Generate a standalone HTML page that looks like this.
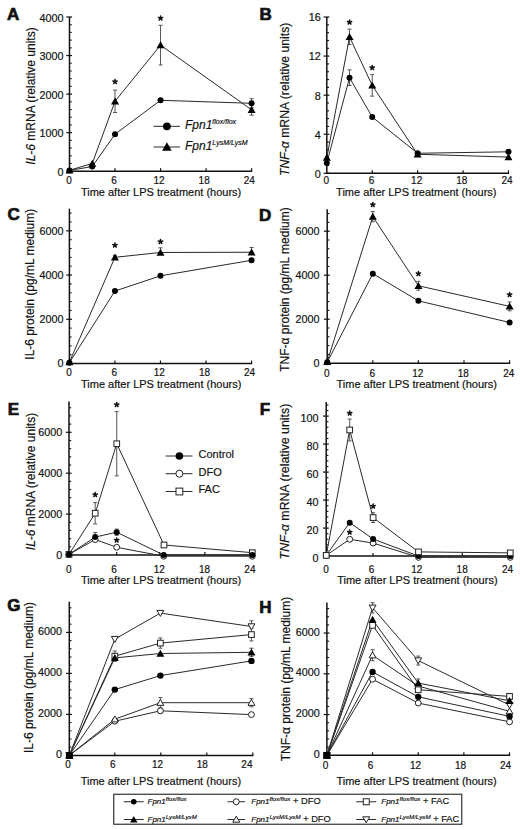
<!DOCTYPE html>
<html><head><meta charset="utf-8"><style>
html,body{margin:0;padding:0;background:#fff;}
svg{display:block;}
text{font-family:"Liberation Sans",sans-serif;fill:#111;stroke:#111;stroke-width:0.18px;}
</style></head><body>
<svg width="520" height="830" viewBox="0 0 520 830">
<rect width="520" height="830" fill="#fff"/>
<line x1="69.5" y1="17" x2="69.5" y2="171.95" stroke="#111" stroke-width="1.5"/>
<line x1="68.75" y1="171.2" x2="252.2" y2="171.2" stroke="#111" stroke-width="1.5"/>
<line x1="66.3" y1="171.2" x2="72.1" y2="171.2" stroke="#111" stroke-width="1.2"/>
<text x="63.45" y="175.7" text-anchor="end" font-size="10.8">0</text>
<line x1="69.5" y1="163.49" x2="71.7" y2="163.49" stroke="#111" stroke-width="1.1"/>
<line x1="69.5" y1="155.78" x2="71.7" y2="155.78" stroke="#111" stroke-width="1.1"/>
<line x1="69.5" y1="148.07" x2="71.7" y2="148.07" stroke="#111" stroke-width="1.1"/>
<line x1="69.5" y1="140.36" x2="71.7" y2="140.36" stroke="#111" stroke-width="1.1"/>
<line x1="66.3" y1="132.65" x2="72.1" y2="132.65" stroke="#111" stroke-width="1.2"/>
<text x="63.45" y="137.15" text-anchor="end" font-size="10.8">1000</text>
<line x1="69.5" y1="124.94" x2="71.7" y2="124.94" stroke="#111" stroke-width="1.1"/>
<line x1="69.5" y1="117.23" x2="71.7" y2="117.23" stroke="#111" stroke-width="1.1"/>
<line x1="69.5" y1="109.52" x2="71.7" y2="109.52" stroke="#111" stroke-width="1.1"/>
<line x1="69.5" y1="101.81" x2="71.7" y2="101.81" stroke="#111" stroke-width="1.1"/>
<line x1="66.3" y1="94.1" x2="72.1" y2="94.1" stroke="#111" stroke-width="1.2"/>
<text x="63.45" y="98.6" text-anchor="end" font-size="10.8">2000</text>
<line x1="69.5" y1="86.39" x2="71.7" y2="86.39" stroke="#111" stroke-width="1.1"/>
<line x1="69.5" y1="78.68" x2="71.7" y2="78.68" stroke="#111" stroke-width="1.1"/>
<line x1="69.5" y1="70.97" x2="71.7" y2="70.97" stroke="#111" stroke-width="1.1"/>
<line x1="69.5" y1="63.26" x2="71.7" y2="63.26" stroke="#111" stroke-width="1.1"/>
<line x1="66.3" y1="55.55" x2="72.1" y2="55.55" stroke="#111" stroke-width="1.2"/>
<text x="63.45" y="60.05" text-anchor="end" font-size="10.8">3000</text>
<line x1="69.5" y1="47.84" x2="71.7" y2="47.84" stroke="#111" stroke-width="1.1"/>
<line x1="69.5" y1="40.13" x2="71.7" y2="40.13" stroke="#111" stroke-width="1.1"/>
<line x1="69.5" y1="32.42" x2="71.7" y2="32.42" stroke="#111" stroke-width="1.1"/>
<line x1="69.5" y1="24.71" x2="71.7" y2="24.71" stroke="#111" stroke-width="1.1"/>
<line x1="66.3" y1="17" x2="72.1" y2="17" stroke="#111" stroke-width="1.2"/>
<text x="63.45" y="21.5" text-anchor="end" font-size="10.8">4000</text>
<text x="69" y="183.6" text-anchor="middle" font-size="10">0</text>
<line x1="115.03" y1="171.2" x2="115.03" y2="168.2" stroke="#111" stroke-width="1.2"/>
<text x="114.06" y="183.6" text-anchor="middle" font-size="10">6</text>
<line x1="160.55" y1="171.2" x2="160.55" y2="168.2" stroke="#111" stroke-width="1.2"/>
<text x="159.12" y="183.6" text-anchor="middle" font-size="10">12</text>
<line x1="206.08" y1="171.2" x2="206.08" y2="168.2" stroke="#111" stroke-width="1.2"/>
<text x="204.18" y="183.6" text-anchor="middle" font-size="10">18</text>
<line x1="251.6" y1="171.2" x2="251.6" y2="168.2" stroke="#111" stroke-width="1.2"/>
<text x="249.24" y="183.6" text-anchor="middle" font-size="10">24</text>
<text x="80.9" y="196.1" font-size="11">Time after LPS treatment (hours)</text>
<text x="7" y="19.6" font-size="17" font-weight="bold" style="stroke-width:0.7px">A</text>
<text transform="translate(34.5,96) rotate(-90)" text-anchor="middle" font-size="12"><tspan font-style="italic">IL-6</tspan> mRNA (relative units)</text>
<line x1="251.6" y1="98.69" x2="251.6" y2="107.94" stroke="#555" stroke-width="1"/>
<line x1="249.6" y1="98.69" x2="253.6" y2="98.69" stroke="#555" stroke-width="1"/>
<line x1="249.6" y1="107.94" x2="253.6" y2="107.94" stroke="#555" stroke-width="1"/>
<line x1="115.03" y1="90.13" x2="115.03" y2="112.49" stroke="#555" stroke-width="1"/>
<line x1="113.03" y1="90.13" x2="117.03" y2="90.13" stroke="#555" stroke-width="1"/>
<line x1="113.03" y1="112.49" x2="117.03" y2="112.49" stroke="#555" stroke-width="1"/>
<line x1="160.55" y1="25.25" x2="160.55" y2="65.03" stroke="#555" stroke-width="1"/>
<line x1="158.55" y1="25.25" x2="162.55" y2="25.25" stroke="#555" stroke-width="1"/>
<line x1="158.55" y1="65.03" x2="162.55" y2="65.03" stroke="#555" stroke-width="1"/>
<line x1="251.6" y1="104.39" x2="251.6" y2="115.19" stroke="#555" stroke-width="1"/>
<line x1="249.6" y1="104.39" x2="253.6" y2="104.39" stroke="#555" stroke-width="1"/>
<line x1="249.6" y1="115.19" x2="253.6" y2="115.19" stroke="#555" stroke-width="1"/>
<path d="M69.5 170.43 L92.26 166.54 L115.03 134.19 L160.55 100.31 L251.6 103.31" fill="none" stroke="#2a2a2a" stroke-width="1.0"/>
<path d="M69.5 170.24 L92.26 163.49 L115.03 101.31 L160.55 45.14 L251.6 109.79" fill="none" stroke="#2a2a2a" stroke-width="1.0"/>
<circle cx="69.5" cy="170.43" r="3.0" fill="#000"/>
<circle cx="92.26" cy="166.54" r="3.0" fill="#000"/>
<circle cx="115.03" cy="134.19" r="3.0" fill="#000"/>
<circle cx="160.55" cy="100.31" r="3.0" fill="#000"/>
<circle cx="251.6" cy="103.31" r="3.0" fill="#000"/>
<path d="M69.5 166.39 L73.5 173.39 L65.5 173.39Z" fill="#000"/>
<path d="M92.26 159.64 L96.26 166.64 L88.26 166.64Z" fill="#000"/>
<path d="M115.03 97.46 L119.03 104.46 L111.03 104.46Z" fill="#000"/>
<path d="M160.55 41.29 L164.55 48.29 L156.55 48.29Z" fill="#000"/>
<path d="M251.6 105.94 L255.6 112.94 L247.6 112.94Z" fill="#000"/>
<path d="M115.03 81.7L115.03 79.45M115.03 81.7L117.16 81M115.03 81.7L116.35 83.52M115.03 81.7L113.7 83.52M115.03 81.7L112.89 81" stroke="#111" stroke-width="1.55" stroke-linecap="round" fill="none"/>
<path d="M160.55 18.2L160.55 15.95M160.55 18.2L162.69 17.5M160.55 18.2L161.87 20.02M160.55 18.2L159.23 20.02M160.55 18.2L158.41 17.5" stroke="#111" stroke-width="1.55" stroke-linecap="round" fill="none"/>
<line x1="153.5" y1="126.3" x2="180" y2="126.3" stroke="#2a2a2a" stroke-width="1"/>
<circle cx="166.9" cy="126.3" r="3.9" fill="#000"/>
<line x1="153.5" y1="147" x2="180" y2="147" stroke="#2a2a2a" stroke-width="1"/>
<path d="M166.9 142.32 L171.65 150.82 L162.15 150.82Z" fill="#000"/>
<text x="185" y="129.4" font-size="12" font-style="italic">Fpn1<tspan font-size="7" dy="-5">flox/flox</tspan></text>
<text x="185" y="150.4" font-size="12" font-style="italic">Fpn1<tspan font-size="7" dy="-5">LysM/LysM</tspan></text>
<line x1="326.8" y1="17.04" x2="326.8" y2="174.05" stroke="#111" stroke-width="1.5"/>
<line x1="326.05" y1="173.3" x2="509.08" y2="173.3" stroke="#111" stroke-width="1.5"/>
<line x1="323.6" y1="173.3" x2="329.4" y2="173.3" stroke="#111" stroke-width="1.2"/>
<text x="320.75" y="177.65" text-anchor="end" font-size="10.8">0</text>
<line x1="326.8" y1="165.49" x2="329" y2="165.49" stroke="#111" stroke-width="1.1"/>
<line x1="326.8" y1="157.67" x2="329" y2="157.67" stroke="#111" stroke-width="1.1"/>
<line x1="326.8" y1="149.86" x2="329" y2="149.86" stroke="#111" stroke-width="1.1"/>
<line x1="326.8" y1="142.05" x2="329" y2="142.05" stroke="#111" stroke-width="1.1"/>
<line x1="323.6" y1="134.24" x2="329.4" y2="134.24" stroke="#111" stroke-width="1.2"/>
<text x="320.75" y="138.59" text-anchor="end" font-size="10.8">4</text>
<line x1="326.8" y1="126.42" x2="329" y2="126.42" stroke="#111" stroke-width="1.1"/>
<line x1="326.8" y1="118.61" x2="329" y2="118.61" stroke="#111" stroke-width="1.1"/>
<line x1="326.8" y1="110.8" x2="329" y2="110.8" stroke="#111" stroke-width="1.1"/>
<line x1="326.8" y1="102.98" x2="329" y2="102.98" stroke="#111" stroke-width="1.1"/>
<line x1="323.6" y1="95.17" x2="329.4" y2="95.17" stroke="#111" stroke-width="1.2"/>
<text x="320.75" y="99.52" text-anchor="end" font-size="10.8">8</text>
<line x1="326.8" y1="87.36" x2="329" y2="87.36" stroke="#111" stroke-width="1.1"/>
<line x1="326.8" y1="79.55" x2="329" y2="79.55" stroke="#111" stroke-width="1.1"/>
<line x1="326.8" y1="71.73" x2="329" y2="71.73" stroke="#111" stroke-width="1.1"/>
<line x1="326.8" y1="63.92" x2="329" y2="63.92" stroke="#111" stroke-width="1.1"/>
<line x1="323.6" y1="56.11" x2="329.4" y2="56.11" stroke="#111" stroke-width="1.2"/>
<text x="320.75" y="60.46" text-anchor="end" font-size="10.8">12</text>
<line x1="326.8" y1="48.3" x2="329" y2="48.3" stroke="#111" stroke-width="1.1"/>
<line x1="326.8" y1="40.48" x2="329" y2="40.48" stroke="#111" stroke-width="1.1"/>
<line x1="326.8" y1="32.67" x2="329" y2="32.67" stroke="#111" stroke-width="1.1"/>
<line x1="326.8" y1="24.86" x2="329" y2="24.86" stroke="#111" stroke-width="1.1"/>
<line x1="323.6" y1="17.04" x2="329.4" y2="17.04" stroke="#111" stroke-width="1.2"/>
<text x="320.75" y="21.39" text-anchor="end" font-size="10.8">16</text>
<text x="326.3" y="183.9" text-anchor="middle" font-size="10">0</text>
<line x1="372.22" y1="173.3" x2="372.22" y2="170.3" stroke="#111" stroke-width="1.2"/>
<text x="371.48" y="183.9" text-anchor="middle" font-size="10">6</text>
<line x1="417.64" y1="173.3" x2="417.64" y2="170.3" stroke="#111" stroke-width="1.2"/>
<text x="416.66" y="183.9" text-anchor="middle" font-size="10">12</text>
<line x1="463.06" y1="173.3" x2="463.06" y2="170.3" stroke="#111" stroke-width="1.2"/>
<text x="461.84" y="183.9" text-anchor="middle" font-size="10">18</text>
<line x1="508.48" y1="173.3" x2="508.48" y2="170.3" stroke="#111" stroke-width="1.2"/>
<text x="507.02" y="183.9" text-anchor="middle" font-size="10">24</text>
<text x="336.1" y="195.8" font-size="11">Time after LPS treatment (hours)</text>
<text x="259.5" y="19.7" font-size="17" font-weight="bold" style="stroke-width:0.7px">B</text>
<text transform="translate(289.2,99.3) rotate(-90)" text-anchor="middle" font-size="12.2"><tspan font-style="italic">TNF-α</tspan> mRNA (relative units)</text>
<line x1="349.51" y1="69.88" x2="349.51" y2="85.5" stroke="#555" stroke-width="1"/>
<line x1="347.51" y1="69.88" x2="351.51" y2="69.88" stroke="#555" stroke-width="1"/>
<line x1="347.51" y1="85.5" x2="351.51" y2="85.5" stroke="#555" stroke-width="1"/>
<line x1="349.51" y1="29.15" x2="349.51" y2="44.58" stroke="#555" stroke-width="1"/>
<line x1="347.51" y1="29.15" x2="351.51" y2="29.15" stroke="#555" stroke-width="1"/>
<line x1="347.51" y1="44.58" x2="351.51" y2="44.58" stroke="#555" stroke-width="1"/>
<line x1="372.22" y1="74.66" x2="372.22" y2="96.15" stroke="#555" stroke-width="1"/>
<line x1="370.22" y1="74.66" x2="374.22" y2="74.66" stroke="#555" stroke-width="1"/>
<line x1="370.22" y1="96.15" x2="374.22" y2="96.15" stroke="#555" stroke-width="1"/>
<line x1="417.64" y1="152.3" x2="417.64" y2="156.21" stroke="#555" stroke-width="1"/>
<line x1="415.64" y1="152.3" x2="419.64" y2="152.3" stroke="#555" stroke-width="1"/>
<line x1="415.64" y1="156.21" x2="419.64" y2="156.21" stroke="#555" stroke-width="1"/>
<path d="M326.8 163.05 L349.51 77.69 L372.22 117.05 L417.64 153.28 L508.48 151.81" fill="none" stroke="#2a2a2a" stroke-width="1.0"/>
<path d="M326.8 157.67 L349.51 36.87 L372.22 85.41 L417.64 154.26 L508.48 157.09" fill="none" stroke="#2a2a2a" stroke-width="1.0"/>
<circle cx="326.8" cy="163.05" r="3.0" fill="#000"/>
<circle cx="349.51" cy="77.69" r="3.0" fill="#000"/>
<circle cx="372.22" cy="117.05" r="3.0" fill="#000"/>
<circle cx="417.64" cy="153.28" r="3.0" fill="#000"/>
<circle cx="508.48" cy="151.81" r="3.0" fill="#000"/>
<path d="M326.8 153.82 L330.8 160.82 L322.8 160.82Z" fill="#000"/>
<path d="M349.51 33.02 L353.51 40.02 L345.51 40.02Z" fill="#000"/>
<path d="M372.22 81.56 L376.22 88.56 L368.22 88.56Z" fill="#000"/>
<path d="M417.64 150.41 L421.64 157.41 L413.64 157.41Z" fill="#000"/>
<path d="M508.48 153.24 L512.48 160.24 L504.48 160.24Z" fill="#000"/>
<path d="M349.51 22.2L349.51 19.95M349.51 22.2L351.65 21.5M349.51 22.2L350.83 24.02M349.51 22.2L348.19 24.02M349.51 22.2L347.37 21.5" stroke="#111" stroke-width="1.55" stroke-linecap="round" fill="none"/>
<path d="M372.22 67.7L372.22 65.45M372.22 67.7L374.36 67M372.22 67.7L373.54 69.52M372.22 67.7L370.9 69.52M372.22 67.7L370.08 67" stroke="#111" stroke-width="1.55" stroke-linecap="round" fill="none"/>
<line x1="69.4" y1="208.68" x2="69.4" y2="364.3" stroke="#111" stroke-width="1.5"/>
<line x1="68.65" y1="363.55" x2="252.16" y2="363.55" stroke="#111" stroke-width="1.5"/>
<line x1="66.2" y1="363.55" x2="72" y2="363.55" stroke="#111" stroke-width="1.2"/>
<text x="63.45" y="367.45" text-anchor="end" font-size="10.8">0</text>
<line x1="69.4" y1="354.7" x2="71.6" y2="354.7" stroke="#111" stroke-width="1.1"/>
<line x1="69.4" y1="345.85" x2="71.6" y2="345.85" stroke="#111" stroke-width="1.1"/>
<line x1="69.4" y1="337" x2="71.6" y2="337" stroke="#111" stroke-width="1.1"/>
<line x1="69.4" y1="328.15" x2="71.6" y2="328.15" stroke="#111" stroke-width="1.1"/>
<line x1="66.2" y1="319.3" x2="72" y2="319.3" stroke="#111" stroke-width="1.2"/>
<text x="63.45" y="323.2" text-anchor="end" font-size="10.8">2000</text>
<line x1="69.4" y1="310.45" x2="71.6" y2="310.45" stroke="#111" stroke-width="1.1"/>
<line x1="69.4" y1="301.6" x2="71.6" y2="301.6" stroke="#111" stroke-width="1.1"/>
<line x1="69.4" y1="292.75" x2="71.6" y2="292.75" stroke="#111" stroke-width="1.1"/>
<line x1="69.4" y1="283.9" x2="71.6" y2="283.9" stroke="#111" stroke-width="1.1"/>
<line x1="66.2" y1="275.05" x2="72" y2="275.05" stroke="#111" stroke-width="1.2"/>
<text x="63.45" y="278.95" text-anchor="end" font-size="10.8">4000</text>
<line x1="69.4" y1="266.2" x2="71.6" y2="266.2" stroke="#111" stroke-width="1.1"/>
<line x1="69.4" y1="257.35" x2="71.6" y2="257.35" stroke="#111" stroke-width="1.1"/>
<line x1="69.4" y1="248.5" x2="71.6" y2="248.5" stroke="#111" stroke-width="1.1"/>
<line x1="69.4" y1="239.65" x2="71.6" y2="239.65" stroke="#111" stroke-width="1.1"/>
<line x1="66.2" y1="230.8" x2="72" y2="230.8" stroke="#111" stroke-width="1.2"/>
<text x="63.45" y="234.7" text-anchor="end" font-size="10.8">6000</text>
<line x1="69.4" y1="221.95" x2="71.6" y2="221.95" stroke="#111" stroke-width="1.1"/>
<line x1="69.4" y1="213.1" x2="71.6" y2="213.1" stroke="#111" stroke-width="1.1"/>
<text x="69.1" y="376.35" text-anchor="middle" font-size="10">0</text>
<line x1="114.94" y1="363.55" x2="114.94" y2="360.55" stroke="#111" stroke-width="1.2"/>
<text x="114.22" y="376.35" text-anchor="middle" font-size="10">6</text>
<line x1="160.48" y1="363.55" x2="160.48" y2="360.55" stroke="#111" stroke-width="1.2"/>
<text x="159.34" y="376.35" text-anchor="middle" font-size="10">12</text>
<line x1="206.02" y1="363.55" x2="206.02" y2="360.55" stroke="#111" stroke-width="1.2"/>
<text x="204.46" y="376.35" text-anchor="middle" font-size="10">18</text>
<line x1="251.56" y1="363.55" x2="251.56" y2="360.55" stroke="#111" stroke-width="1.2"/>
<text x="249.58" y="376.35" text-anchor="middle" font-size="10">24</text>
<text x="81" y="387.75" font-size="11">Time after LPS treatment (hours)</text>
<text x="7.6" y="220" font-size="17" font-weight="bold" style="stroke-width:0.7px">C</text>
<text transform="translate(33.5,284.2) rotate(-90)" text-anchor="middle" font-size="12">IL-6 protein (pg/mL medium)</text>
<line x1="251.56" y1="258.52" x2="251.56" y2="262.06" stroke="#555" stroke-width="1"/>
<line x1="249.56" y1="258.52" x2="253.56" y2="258.52" stroke="#555" stroke-width="1"/>
<line x1="249.56" y1="262.06" x2="253.56" y2="262.06" stroke="#555" stroke-width="1"/>
<line x1="114.94" y1="255.54" x2="114.94" y2="257.31" stroke="#555" stroke-width="1"/>
<line x1="112.94" y1="255.54" x2="116.94" y2="255.54" stroke="#555" stroke-width="1"/>
<line x1="112.94" y1="257.31" x2="116.94" y2="257.31" stroke="#555" stroke-width="1"/>
<line x1="160.48" y1="247.84" x2="160.48" y2="252.48" stroke="#555" stroke-width="1"/>
<line x1="158.48" y1="247.84" x2="162.48" y2="247.84" stroke="#555" stroke-width="1"/>
<line x1="158.48" y1="252.48" x2="162.48" y2="252.48" stroke="#555" stroke-width="1"/>
<line x1="251.56" y1="247.5" x2="251.56" y2="252.26" stroke="#555" stroke-width="1"/>
<line x1="249.56" y1="247.5" x2="253.56" y2="247.5" stroke="#555" stroke-width="1"/>
<line x1="249.56" y1="252.26" x2="253.56" y2="252.26" stroke="#555" stroke-width="1"/>
<path d="M69.4 362.67 L114.94 291.05 L160.48 275.8 L251.56 260.29" fill="none" stroke="#2a2a2a" stroke-width="1.0"/>
<path d="M69.4 362.22 L114.94 257.31 L160.48 252.48 L251.56 252.26" fill="none" stroke="#2a2a2a" stroke-width="1.0"/>
<circle cx="69.4" cy="362.67" r="3.0" fill="#000"/>
<circle cx="114.94" cy="291.05" r="3.0" fill="#000"/>
<circle cx="160.48" cy="275.8" r="3.0" fill="#000"/>
<circle cx="251.56" cy="260.29" r="3.0" fill="#000"/>
<path d="M69.4 358.37 L73.4 365.37 L65.4 365.37Z" fill="#000"/>
<path d="M114.94 253.46 L118.94 260.46 L110.94 260.46Z" fill="#000"/>
<path d="M160.48 248.63 L164.48 255.63 L156.48 255.63Z" fill="#000"/>
<path d="M251.56 248.41 L255.56 255.41 L247.56 255.41Z" fill="#000"/>
<path d="M114.94 245.2L114.94 242.95M114.94 245.2L117.08 244.5M114.94 245.2L116.26 247.02M114.94 245.2L113.62 247.02M114.94 245.2L112.8 244.5" stroke="#111" stroke-width="1.55" stroke-linecap="round" fill="none"/>
<path d="M160.48 241.7L160.48 239.45M160.48 241.7L162.62 241M160.48 241.7L161.8 243.52M160.48 241.7L159.16 243.52M160.48 241.7L158.34 241" stroke="#111" stroke-width="1.55" stroke-linecap="round" fill="none"/>
<line x1="327.2" y1="209.2" x2="327.2" y2="363.95" stroke="#111" stroke-width="1.5"/>
<line x1="326.45" y1="363.2" x2="510.2" y2="363.2" stroke="#111" stroke-width="1.5"/>
<line x1="324" y1="363.2" x2="329.8" y2="363.2" stroke="#111" stroke-width="1.2"/>
<text x="319.45" y="366.5" text-anchor="end" font-size="10.8">0</text>
<line x1="327.2" y1="354.4" x2="329.4" y2="354.4" stroke="#111" stroke-width="1.1"/>
<line x1="327.2" y1="345.6" x2="329.4" y2="345.6" stroke="#111" stroke-width="1.1"/>
<line x1="327.2" y1="336.8" x2="329.4" y2="336.8" stroke="#111" stroke-width="1.1"/>
<line x1="327.2" y1="328" x2="329.4" y2="328" stroke="#111" stroke-width="1.1"/>
<line x1="324" y1="319.2" x2="329.8" y2="319.2" stroke="#111" stroke-width="1.2"/>
<text x="319.45" y="322.5" text-anchor="end" font-size="10.8">2000</text>
<line x1="327.2" y1="310.4" x2="329.4" y2="310.4" stroke="#111" stroke-width="1.1"/>
<line x1="327.2" y1="301.6" x2="329.4" y2="301.6" stroke="#111" stroke-width="1.1"/>
<line x1="327.2" y1="292.8" x2="329.4" y2="292.8" stroke="#111" stroke-width="1.1"/>
<line x1="327.2" y1="284" x2="329.4" y2="284" stroke="#111" stroke-width="1.1"/>
<line x1="324" y1="275.2" x2="329.8" y2="275.2" stroke="#111" stroke-width="1.2"/>
<text x="319.45" y="278.5" text-anchor="end" font-size="10.8">4000</text>
<line x1="327.2" y1="266.4" x2="329.4" y2="266.4" stroke="#111" stroke-width="1.1"/>
<line x1="327.2" y1="257.6" x2="329.4" y2="257.6" stroke="#111" stroke-width="1.1"/>
<line x1="327.2" y1="248.8" x2="329.4" y2="248.8" stroke="#111" stroke-width="1.1"/>
<line x1="327.2" y1="240" x2="329.4" y2="240" stroke="#111" stroke-width="1.1"/>
<line x1="324" y1="231.2" x2="329.8" y2="231.2" stroke="#111" stroke-width="1.2"/>
<text x="319.45" y="234.5" text-anchor="end" font-size="10.8">6000</text>
<line x1="327.2" y1="222.4" x2="329.4" y2="222.4" stroke="#111" stroke-width="1.1"/>
<line x1="327.2" y1="213.6" x2="329.4" y2="213.6" stroke="#111" stroke-width="1.1"/>
<text x="326.7" y="377.1" text-anchor="middle" font-size="10">0</text>
<line x1="372.8" y1="363.2" x2="372.8" y2="360.2" stroke="#111" stroke-width="1.2"/>
<text x="372.21" y="377.1" text-anchor="middle" font-size="10">6</text>
<line x1="418.4" y1="363.2" x2="418.4" y2="360.2" stroke="#111" stroke-width="1.2"/>
<text x="417.72" y="377.1" text-anchor="middle" font-size="10">12</text>
<line x1="464" y1="363.2" x2="464" y2="360.2" stroke="#111" stroke-width="1.2"/>
<text x="463.23" y="377.1" text-anchor="middle" font-size="10">18</text>
<line x1="509.6" y1="363.2" x2="509.6" y2="360.2" stroke="#111" stroke-width="1.2"/>
<text x="508.74" y="377.1" text-anchor="middle" font-size="10">24</text>
<text x="336.5" y="387.6" font-size="11">Time after LPS treatment (hours)</text>
<text x="259.05" y="220.9" font-size="17" font-weight="bold" style="stroke-width:0.7px">D</text>
<text transform="translate(289.2,289.5) rotate(-90)" text-anchor="middle" font-size="12">TNF-α protein (pg/mL medium)</text>
<line x1="372.8" y1="211.55" x2="372.8" y2="221.67" stroke="#555" stroke-width="1"/>
<line x1="370.8" y1="211.55" x2="374.8" y2="211.55" stroke="#555" stroke-width="1"/>
<line x1="370.8" y1="221.67" x2="374.8" y2="221.67" stroke="#555" stroke-width="1"/>
<line x1="418.4" y1="281.36" x2="418.4" y2="290.16" stroke="#555" stroke-width="1"/>
<line x1="416.4" y1="281.36" x2="420.4" y2="281.36" stroke="#555" stroke-width="1"/>
<line x1="416.4" y1="290.16" x2="420.4" y2="290.16" stroke="#555" stroke-width="1"/>
<line x1="509.6" y1="301.97" x2="509.6" y2="310.77" stroke="#555" stroke-width="1"/>
<line x1="507.6" y1="301.97" x2="511.6" y2="301.97" stroke="#555" stroke-width="1"/>
<line x1="507.6" y1="310.77" x2="511.6" y2="310.77" stroke="#555" stroke-width="1"/>
<path d="M327.2 362.32 L372.8 273.68 L418.4 300.85 L509.6 322.48" fill="none" stroke="#2a2a2a" stroke-width="1.0"/>
<path d="M327.2 361.88 L372.8 216.61 L418.4 285.76 L509.6 306.37" fill="none" stroke="#2a2a2a" stroke-width="1.0"/>
<circle cx="327.2" cy="362.32" r="3.0" fill="#000"/>
<circle cx="372.8" cy="273.68" r="3.0" fill="#000"/>
<circle cx="418.4" cy="300.85" r="3.0" fill="#000"/>
<circle cx="509.6" cy="322.48" r="3.0" fill="#000"/>
<path d="M327.2 358.03 L331.2 365.03 L323.2 365.03Z" fill="#000"/>
<path d="M372.8 212.76 L376.8 219.76 L368.8 219.76Z" fill="#000"/>
<path d="M418.4 281.91 L422.4 288.91 L414.4 288.91Z" fill="#000"/>
<path d="M509.6 302.52 L513.6 309.52 L505.6 309.52Z" fill="#000"/>
<path d="M372.8 204.7L372.8 202.45M372.8 204.7L374.94 204M372.8 204.7L374.12 206.52M372.8 204.7L371.48 206.52M372.8 204.7L370.66 204" stroke="#111" stroke-width="1.55" stroke-linecap="round" fill="none"/>
<path d="M418.4 273.7L418.4 271.45M418.4 273.7L420.54 273M418.4 273.7L419.72 275.52M418.4 273.7L417.08 275.52M418.4 273.7L416.26 273" stroke="#111" stroke-width="1.55" stroke-linecap="round" fill="none"/>
<path d="M509.6 294.7L509.6 292.45M509.6 294.7L511.74 294M509.6 294.7L510.92 296.52M509.6 294.7L508.28 296.52M509.6 294.7L507.46 294" stroke="#111" stroke-width="1.55" stroke-linecap="round" fill="none"/>
<line x1="69" y1="401.62" x2="69" y2="555.75" stroke="#111" stroke-width="1.5"/>
<line x1="68.25" y1="555" x2="252.9" y2="555" stroke="#111" stroke-width="1.5"/>
<line x1="65.8" y1="555" x2="71.6" y2="555" stroke="#111" stroke-width="1.2"/>
<text x="62.25" y="558.9" text-anchor="end" font-size="10.8">0</text>
<line x1="69" y1="546.82" x2="71.2" y2="546.82" stroke="#111" stroke-width="1.1"/>
<line x1="69" y1="538.64" x2="71.2" y2="538.64" stroke="#111" stroke-width="1.1"/>
<line x1="69" y1="530.46" x2="71.2" y2="530.46" stroke="#111" stroke-width="1.1"/>
<line x1="69" y1="522.28" x2="71.2" y2="522.28" stroke="#111" stroke-width="1.1"/>
<line x1="65.8" y1="514.1" x2="71.6" y2="514.1" stroke="#111" stroke-width="1.2"/>
<text x="62.25" y="518" text-anchor="end" font-size="10.8">2000</text>
<line x1="69" y1="505.92" x2="71.2" y2="505.92" stroke="#111" stroke-width="1.1"/>
<line x1="69" y1="497.74" x2="71.2" y2="497.74" stroke="#111" stroke-width="1.1"/>
<line x1="69" y1="489.56" x2="71.2" y2="489.56" stroke="#111" stroke-width="1.1"/>
<line x1="69" y1="481.38" x2="71.2" y2="481.38" stroke="#111" stroke-width="1.1"/>
<line x1="65.8" y1="473.2" x2="71.6" y2="473.2" stroke="#111" stroke-width="1.2"/>
<text x="62.25" y="477.1" text-anchor="end" font-size="10.8">4000</text>
<line x1="69" y1="465.02" x2="71.2" y2="465.02" stroke="#111" stroke-width="1.1"/>
<line x1="69" y1="456.84" x2="71.2" y2="456.84" stroke="#111" stroke-width="1.1"/>
<line x1="69" y1="448.66" x2="71.2" y2="448.66" stroke="#111" stroke-width="1.1"/>
<line x1="69" y1="440.48" x2="71.2" y2="440.48" stroke="#111" stroke-width="1.1"/>
<line x1="65.8" y1="432.3" x2="71.6" y2="432.3" stroke="#111" stroke-width="1.2"/>
<text x="62.25" y="436.2" text-anchor="end" font-size="10.8">6000</text>
<line x1="69" y1="424.12" x2="71.2" y2="424.12" stroke="#111" stroke-width="1.1"/>
<line x1="69" y1="415.94" x2="71.2" y2="415.94" stroke="#111" stroke-width="1.1"/>
<line x1="69" y1="407.76" x2="71.2" y2="407.76" stroke="#111" stroke-width="1.1"/>
<text x="68.7" y="572.8" text-anchor="middle" font-size="10">0</text>
<line x1="116.7" y1="555" x2="116.7" y2="552" stroke="#111" stroke-width="1.2"/>
<text x="114" y="572.8" text-anchor="middle" font-size="10">6</text>
<line x1="159.6" y1="555" x2="159.6" y2="552" stroke="#111" stroke-width="1.2"/>
<text x="159.3" y="572.8" text-anchor="middle" font-size="10">12</text>
<line x1="204.9" y1="555" x2="204.9" y2="552" stroke="#111" stroke-width="1.2"/>
<text x="204.6" y="572.8" text-anchor="middle" font-size="10">18</text>
<line x1="252.3" y1="555" x2="252.3" y2="552" stroke="#111" stroke-width="1.2"/>
<text x="249.9" y="572.8" text-anchor="middle" font-size="10">24</text>
<text x="80.9" y="584.3" font-size="11">Time after LPS treatment (hours)</text>
<text x="7.8" y="415.1" font-size="17" font-weight="bold" style="stroke-width:0.7px">E</text>
<text transform="translate(34.5,481.5) rotate(-90)" text-anchor="middle" font-size="12"><tspan font-style="italic">IL-6</tspan> mRNA (relative units)</text>
<line x1="95.2" y1="502.61" x2="95.2" y2="523.88" stroke="#555" stroke-width="1"/>
<line x1="93.2" y1="502.61" x2="97.2" y2="502.61" stroke="#555" stroke-width="1"/>
<line x1="93.2" y1="523.88" x2="97.2" y2="523.88" stroke="#555" stroke-width="1"/>
<line x1="116.75" y1="411.65" x2="116.75" y2="475.86" stroke="#555" stroke-width="1"/>
<line x1="114.75" y1="411.65" x2="118.75" y2="411.65" stroke="#555" stroke-width="1"/>
<line x1="114.75" y1="475.86" x2="118.75" y2="475.86" stroke="#555" stroke-width="1"/>
<line x1="95.2" y1="532.55" x2="95.2" y2="541.54" stroke="#555" stroke-width="1"/>
<line x1="93.2" y1="532.55" x2="97.2" y2="532.55" stroke="#555" stroke-width="1"/>
<line x1="93.2" y1="541.54" x2="97.2" y2="541.54" stroke="#555" stroke-width="1"/>
<line x1="116.7" y1="529.15" x2="116.7" y2="535.29" stroke="#555" stroke-width="1"/>
<line x1="114.7" y1="529.15" x2="118.7" y2="529.15" stroke="#555" stroke-width="1"/>
<line x1="114.7" y1="535.29" x2="118.7" y2="535.29" stroke="#555" stroke-width="1"/>
<path d="M69 554.39 L95.2 539.54 L116.7 547.27 L163.7 556.23 L252.3 556.23" fill="none" stroke="#2a2a2a" stroke-width="1.0"/>
<path d="M69 554.39 L95.2 513.24 L116.75 443.75 L164 544.98 L252.3 552.69" fill="none" stroke="#2a2a2a" stroke-width="1.0"/>
<path d="M69 554.39 L95.2 537.04 L116.7 532.22 L163.7 555 L252.3 555" fill="none" stroke="#2a2a2a" stroke-width="1.0"/>
<circle cx="69" cy="554.39" r="2.95" fill="#fff" stroke="#222" stroke-width="1"/>
<circle cx="95.2" cy="539.54" r="2.95" fill="#fff" stroke="#222" stroke-width="1"/>
<circle cx="116.7" cy="547.27" r="2.95" fill="#fff" stroke="#222" stroke-width="1"/>
<circle cx="163.7" cy="556.23" r="2.95" fill="#fff" stroke="#222" stroke-width="1"/>
<circle cx="252.3" cy="556.23" r="2.95" fill="#fff" stroke="#222" stroke-width="1"/>
<rect x="66.15" y="551.54" width="5.7" height="5.7" fill="#fff" stroke="#222" stroke-width="1"/>
<rect x="92.35" y="510.39" width="5.7" height="5.7" fill="#fff" stroke="#222" stroke-width="1"/>
<rect x="113.9" y="440.9" width="5.7" height="5.7" fill="#fff" stroke="#222" stroke-width="1"/>
<rect x="161.15" y="542.13" width="5.7" height="5.7" fill="#fff" stroke="#222" stroke-width="1"/>
<rect x="249.45" y="549.84" width="5.7" height="5.7" fill="#fff" stroke="#222" stroke-width="1"/>
<circle cx="69" cy="554.39" r="3.0" fill="#000"/>
<circle cx="95.2" cy="537.04" r="3.0" fill="#000"/>
<circle cx="116.7" cy="532.22" r="3.0" fill="#000"/>
<circle cx="163.7" cy="555" r="3.0" fill="#000"/>
<circle cx="252.3" cy="555" r="3.0" fill="#000"/>
<path d="M95.2 494.7L95.2 492.45M95.2 494.7L97.34 494M95.2 494.7L96.52 496.52M95.2 494.7L93.88 496.52M95.2 494.7L93.06 494" stroke="#111" stroke-width="1.55" stroke-linecap="round" fill="none"/>
<path d="M116.75 404.7L116.75 402.45M116.75 404.7L118.89 404M116.75 404.7L118.07 406.52M116.75 404.7L115.43 406.52M116.75 404.7L114.61 404" stroke="#111" stroke-width="1.55" stroke-linecap="round" fill="none"/>
<path d="M116.7 540.2L116.7 537.95M116.7 540.2L118.84 539.5M116.7 540.2L118.02 542.02M116.7 540.2L115.38 542.02M116.7 540.2L114.56 539.5" stroke="#111" stroke-width="1.55" stroke-linecap="round" fill="none"/>
<line x1="165.6" y1="456" x2="192.5" y2="456" stroke="#2a2a2a" stroke-width="1"/>
<circle cx="179.4" cy="456" r="3.8" fill="#000"/>
<text x="198.5" y="457.8" font-size="11">Control</text>
<line x1="165.6" y1="473.7" x2="192.5" y2="473.7" stroke="#2a2a2a" stroke-width="1"/>
<circle cx="179.4" cy="473.7" r="3.5" fill="#fff" stroke="#222" stroke-width="1"/>
<text x="198.5" y="475.5" font-size="11">DFO</text>
<line x1="165.6" y1="491.5" x2="192.5" y2="491.5" stroke="#2a2a2a" stroke-width="1"/>
<rect x="176" y="488.1" width="6.8" height="6.8" fill="#fff" stroke="#222" stroke-width="1"/>
<text x="198.5" y="493.3" font-size="11">FAC</text>
<line x1="326.2" y1="402.1" x2="326.2" y2="556.85" stroke="#111" stroke-width="1.5"/>
<line x1="325.45" y1="556.1" x2="510.6" y2="556.1" stroke="#111" stroke-width="1.5"/>
<line x1="323" y1="556.1" x2="328.8" y2="556.1" stroke="#111" stroke-width="1.2"/>
<text x="318.55" y="561.6" text-anchor="end" font-size="10.8">0</text>
<line x1="326.2" y1="550.5" x2="328.4" y2="550.5" stroke="#111" stroke-width="1.1"/>
<line x1="326.2" y1="544.9" x2="328.4" y2="544.9" stroke="#111" stroke-width="1.1"/>
<line x1="326.2" y1="539.3" x2="328.4" y2="539.3" stroke="#111" stroke-width="1.1"/>
<line x1="326.2" y1="533.7" x2="328.4" y2="533.7" stroke="#111" stroke-width="1.1"/>
<line x1="323" y1="528.1" x2="328.8" y2="528.1" stroke="#111" stroke-width="1.2"/>
<text x="318.55" y="533.6" text-anchor="end" font-size="10.8">20</text>
<line x1="326.2" y1="522.5" x2="328.4" y2="522.5" stroke="#111" stroke-width="1.1"/>
<line x1="326.2" y1="516.9" x2="328.4" y2="516.9" stroke="#111" stroke-width="1.1"/>
<line x1="326.2" y1="511.3" x2="328.4" y2="511.3" stroke="#111" stroke-width="1.1"/>
<line x1="326.2" y1="505.7" x2="328.4" y2="505.7" stroke="#111" stroke-width="1.1"/>
<line x1="323" y1="500.1" x2="328.8" y2="500.1" stroke="#111" stroke-width="1.2"/>
<text x="318.55" y="505.6" text-anchor="end" font-size="10.8">40</text>
<line x1="326.2" y1="494.5" x2="328.4" y2="494.5" stroke="#111" stroke-width="1.1"/>
<line x1="326.2" y1="488.9" x2="328.4" y2="488.9" stroke="#111" stroke-width="1.1"/>
<line x1="326.2" y1="483.3" x2="328.4" y2="483.3" stroke="#111" stroke-width="1.1"/>
<line x1="326.2" y1="477.7" x2="328.4" y2="477.7" stroke="#111" stroke-width="1.1"/>
<line x1="323" y1="472.1" x2="328.8" y2="472.1" stroke="#111" stroke-width="1.2"/>
<text x="318.55" y="477.6" text-anchor="end" font-size="10.8">60</text>
<line x1="326.2" y1="466.5" x2="328.4" y2="466.5" stroke="#111" stroke-width="1.1"/>
<line x1="326.2" y1="460.9" x2="328.4" y2="460.9" stroke="#111" stroke-width="1.1"/>
<line x1="326.2" y1="455.3" x2="328.4" y2="455.3" stroke="#111" stroke-width="1.1"/>
<line x1="326.2" y1="449.7" x2="328.4" y2="449.7" stroke="#111" stroke-width="1.1"/>
<line x1="323" y1="444.1" x2="328.8" y2="444.1" stroke="#111" stroke-width="1.2"/>
<text x="318.55" y="449.6" text-anchor="end" font-size="10.8">80</text>
<line x1="326.2" y1="438.5" x2="328.4" y2="438.5" stroke="#111" stroke-width="1.1"/>
<line x1="326.2" y1="432.9" x2="328.4" y2="432.9" stroke="#111" stroke-width="1.1"/>
<line x1="326.2" y1="427.3" x2="328.4" y2="427.3" stroke="#111" stroke-width="1.1"/>
<line x1="326.2" y1="421.7" x2="328.4" y2="421.7" stroke="#111" stroke-width="1.1"/>
<line x1="323" y1="416.1" x2="328.8" y2="416.1" stroke="#111" stroke-width="1.2"/>
<text x="318.55" y="421.6" text-anchor="end" font-size="10.8">100</text>
<line x1="326.2" y1="410.5" x2="328.4" y2="410.5" stroke="#111" stroke-width="1.1"/>
<line x1="326.2" y1="404.9" x2="328.4" y2="404.9" stroke="#111" stroke-width="1.1"/>
<text x="326.1" y="572.7" text-anchor="middle" font-size="10">0</text>
<line x1="373" y1="556.1" x2="373" y2="553.1" stroke="#111" stroke-width="1.2"/>
<text x="371.46" y="572.7" text-anchor="middle" font-size="10">6</text>
<line x1="416.92" y1="556.1" x2="416.92" y2="553.1" stroke="#111" stroke-width="1.2"/>
<text x="416.82" y="572.7" text-anchor="middle" font-size="10">12</text>
<line x1="462.28" y1="556.1" x2="462.28" y2="553.1" stroke="#111" stroke-width="1.2"/>
<text x="462.18" y="572.7" text-anchor="middle" font-size="10">18</text>
<line x1="510" y1="556.1" x2="510" y2="553.1" stroke="#111" stroke-width="1.2"/>
<text x="507.54" y="572.7" text-anchor="middle" font-size="10">24</text>
<text x="337.2" y="584.2" font-size="11">Time after LPS treatment (hours)</text>
<text x="259.85" y="415.1" font-size="17" font-weight="bold" style="stroke-width:0.7px">F</text>
<text transform="translate(288.5,481.5) rotate(-90)" text-anchor="middle" font-size="12.4"><tspan font-style="italic">TNF-α</tspan> mRNA (relative units)</text>
<line x1="349.7" y1="419.04" x2="349.7" y2="440.88" stroke="#555" stroke-width="1"/>
<line x1="347.7" y1="419.04" x2="351.7" y2="419.04" stroke="#555" stroke-width="1"/>
<line x1="347.7" y1="440.88" x2="351.7" y2="440.88" stroke="#555" stroke-width="1"/>
<line x1="373.1" y1="512.7" x2="373.1" y2="522.5" stroke="#555" stroke-width="1"/>
<line x1="371.1" y1="512.7" x2="375.1" y2="512.7" stroke="#555" stroke-width="1"/>
<line x1="371.1" y1="522.5" x2="375.1" y2="522.5" stroke="#555" stroke-width="1"/>
<path d="M326.2 555.4 L349.7 539.3 L373.1 543.08 L418.5 557.36 L510.25 557.36" fill="none" stroke="#2a2a2a" stroke-width="1.0"/>
<path d="M326.2 555.4 L349.7 522.64 L373.1 539.02 L418.5 556.1 L510.25 556.1" fill="none" stroke="#2a2a2a" stroke-width="1.0"/>
<path d="M326.2 555.4 L349.7 429.96 L373.1 517.6 L418.5 551.9 L510.25 552.88" fill="none" stroke="#2a2a2a" stroke-width="1.0"/>
<circle cx="326.2" cy="555.4" r="2.95" fill="#fff" stroke="#222" stroke-width="1"/>
<circle cx="349.7" cy="539.3" r="2.95" fill="#fff" stroke="#222" stroke-width="1"/>
<circle cx="373.1" cy="543.08" r="2.95" fill="#fff" stroke="#222" stroke-width="1"/>
<circle cx="418.5" cy="557.36" r="2.95" fill="#fff" stroke="#222" stroke-width="1"/>
<circle cx="510.25" cy="557.36" r="2.95" fill="#fff" stroke="#222" stroke-width="1"/>
<circle cx="326.2" cy="555.4" r="3.0" fill="#000"/>
<circle cx="349.7" cy="522.64" r="3.0" fill="#000"/>
<circle cx="373.1" cy="539.02" r="3.0" fill="#000"/>
<circle cx="418.5" cy="556.1" r="3.0" fill="#000"/>
<circle cx="510.25" cy="556.1" r="3.0" fill="#000"/>
<rect x="323.35" y="552.55" width="5.7" height="5.7" fill="#fff" stroke="#222" stroke-width="1"/>
<rect x="346.85" y="427.11" width="5.7" height="5.7" fill="#fff" stroke="#222" stroke-width="1"/>
<rect x="370.25" y="514.75" width="5.7" height="5.7" fill="#fff" stroke="#222" stroke-width="1"/>
<rect x="415.65" y="549.05" width="5.7" height="5.7" fill="#fff" stroke="#222" stroke-width="1"/>
<rect x="507.4" y="550.03" width="5.7" height="5.7" fill="#fff" stroke="#222" stroke-width="1"/>
<path d="M349.7 413.2L349.7 410.95M349.7 413.2L351.84 412.5M349.7 413.2L351.02 415.02M349.7 413.2L348.38 415.02M349.7 413.2L347.56 412.5" stroke="#111" stroke-width="1.55" stroke-linecap="round" fill="none"/>
<path d="M373.1 506.2L373.1 503.95M373.1 506.2L375.24 505.5M373.1 506.2L374.42 508.02M373.1 506.2L371.78 508.02M373.1 506.2L370.96 505.5" stroke="#111" stroke-width="1.55" stroke-linecap="round" fill="none"/>
<path d="M349.7 532.2L349.7 529.95M349.7 532.2L351.84 531.5M349.7 532.2L351.02 534.02M349.7 532.2L348.38 534.02M349.7 532.2L347.56 531.5" stroke="#111" stroke-width="1.55" stroke-linecap="round" fill="none"/>
<line x1="69.3" y1="601.65" x2="69.3" y2="756.15" stroke="#111" stroke-width="1.5"/>
<line x1="68.55" y1="755.4" x2="253.4" y2="755.4" stroke="#111" stroke-width="1.5"/>
<line x1="66.1" y1="755.4" x2="71.9" y2="755.4" stroke="#111" stroke-width="1.2"/>
<text x="62.05" y="758.2" text-anchor="end" font-size="10.8">0</text>
<line x1="69.3" y1="747.2" x2="71.5" y2="747.2" stroke="#111" stroke-width="1.1"/>
<line x1="69.3" y1="739" x2="71.5" y2="739" stroke="#111" stroke-width="1.1"/>
<line x1="69.3" y1="730.8" x2="71.5" y2="730.8" stroke="#111" stroke-width="1.1"/>
<line x1="69.3" y1="722.6" x2="71.5" y2="722.6" stroke="#111" stroke-width="1.1"/>
<line x1="66.1" y1="714.4" x2="71.9" y2="714.4" stroke="#111" stroke-width="1.2"/>
<text x="62.05" y="717.2" text-anchor="end" font-size="10.8">2000</text>
<line x1="69.3" y1="706.2" x2="71.5" y2="706.2" stroke="#111" stroke-width="1.1"/>
<line x1="69.3" y1="698" x2="71.5" y2="698" stroke="#111" stroke-width="1.1"/>
<line x1="69.3" y1="689.8" x2="71.5" y2="689.8" stroke="#111" stroke-width="1.1"/>
<line x1="69.3" y1="681.6" x2="71.5" y2="681.6" stroke="#111" stroke-width="1.1"/>
<line x1="66.1" y1="673.4" x2="71.9" y2="673.4" stroke="#111" stroke-width="1.2"/>
<text x="62.05" y="676.2" text-anchor="end" font-size="10.8">4000</text>
<line x1="69.3" y1="665.2" x2="71.5" y2="665.2" stroke="#111" stroke-width="1.1"/>
<line x1="69.3" y1="657" x2="71.5" y2="657" stroke="#111" stroke-width="1.1"/>
<line x1="69.3" y1="648.8" x2="71.5" y2="648.8" stroke="#111" stroke-width="1.1"/>
<line x1="69.3" y1="640.6" x2="71.5" y2="640.6" stroke="#111" stroke-width="1.1"/>
<line x1="66.1" y1="632.4" x2="71.9" y2="632.4" stroke="#111" stroke-width="1.2"/>
<text x="62.05" y="635.2" text-anchor="end" font-size="10.8">6000</text>
<line x1="69.3" y1="624.2" x2="71.5" y2="624.2" stroke="#111" stroke-width="1.1"/>
<line x1="69.3" y1="616" x2="71.5" y2="616" stroke="#111" stroke-width="1.1"/>
<line x1="69.3" y1="607.8" x2="71.5" y2="607.8" stroke="#111" stroke-width="1.1"/>
<text x="68.1" y="767.6" text-anchor="middle" font-size="10">0</text>
<line x1="114.8" y1="755.4" x2="114.8" y2="752.4" stroke="#111" stroke-width="1.2"/>
<text x="112.8" y="767.6" text-anchor="middle" font-size="10">6</text>
<line x1="160.8" y1="755.4" x2="160.8" y2="752.4" stroke="#111" stroke-width="1.2"/>
<text x="157.5" y="767.6" text-anchor="middle" font-size="10">12</text>
<line x1="206.8" y1="755.4" x2="206.8" y2="752.4" stroke="#111" stroke-width="1.2"/>
<text x="202.2" y="767.6" text-anchor="middle" font-size="10">18</text>
<line x1="252.8" y1="755.4" x2="252.8" y2="752.4" stroke="#111" stroke-width="1.2"/>
<text x="246.9" y="767.6" text-anchor="middle" font-size="10">24</text>
<text x="80.7" y="784.9" font-size="11">Time after LPS treatment (hours)</text>
<text x="7.2" y="611.4" font-size="17" font-weight="bold" style="stroke-width:0.7px">G</text>
<text transform="translate(33.3,677.5) rotate(-90)" text-anchor="middle" font-size="12">IL-6 protein (pg/mL medium)</text>
<line x1="160.38" y1="708.33" x2="160.38" y2="713.25" stroke="#555" stroke-width="1"/>
<line x1="158.38" y1="708.33" x2="162.38" y2="708.33" stroke="#555" stroke-width="1"/>
<line x1="158.38" y1="713.25" x2="162.38" y2="713.25" stroke="#555" stroke-width="1"/>
<line x1="160.38" y1="697.57" x2="160.38" y2="707.82" stroke="#555" stroke-width="1"/>
<line x1="158.38" y1="697.57" x2="162.38" y2="697.57" stroke="#555" stroke-width="1"/>
<line x1="158.38" y1="707.82" x2="162.38" y2="707.82" stroke="#555" stroke-width="1"/>
<line x1="251.46" y1="698.59" x2="251.46" y2="706.79" stroke="#555" stroke-width="1"/>
<line x1="249.46" y1="698.59" x2="253.46" y2="698.59" stroke="#555" stroke-width="1"/>
<line x1="249.46" y1="706.79" x2="253.46" y2="706.79" stroke="#555" stroke-width="1"/>
<line x1="251.46" y1="620.76" x2="251.46" y2="632.24" stroke="#555" stroke-width="1"/>
<line x1="249.46" y1="620.76" x2="253.46" y2="620.76" stroke="#555" stroke-width="1"/>
<line x1="249.46" y1="632.24" x2="253.46" y2="632.24" stroke="#555" stroke-width="1"/>
<line x1="114.84" y1="651.03" x2="114.84" y2="661.28" stroke="#555" stroke-width="1"/>
<line x1="112.84" y1="651.03" x2="116.84" y2="651.03" stroke="#555" stroke-width="1"/>
<line x1="112.84" y1="661.28" x2="116.84" y2="661.28" stroke="#555" stroke-width="1"/>
<line x1="160.38" y1="637.98" x2="160.38" y2="648.23" stroke="#555" stroke-width="1"/>
<line x1="158.38" y1="637.98" x2="162.38" y2="637.98" stroke="#555" stroke-width="1"/>
<line x1="158.38" y1="648.23" x2="162.38" y2="648.23" stroke="#555" stroke-width="1"/>
<line x1="251.46" y1="628.24" x2="251.46" y2="640.95" stroke="#555" stroke-width="1"/>
<line x1="249.46" y1="628.24" x2="253.46" y2="628.24" stroke="#555" stroke-width="1"/>
<line x1="249.46" y1="640.95" x2="253.46" y2="640.95" stroke="#555" stroke-width="1"/>
<line x1="251.46" y1="659.25" x2="251.46" y2="662.53" stroke="#555" stroke-width="1"/>
<line x1="249.46" y1="659.25" x2="253.46" y2="659.25" stroke="#555" stroke-width="1"/>
<line x1="249.46" y1="662.53" x2="253.46" y2="662.53" stroke="#555" stroke-width="1"/>
<line x1="251.46" y1="648.21" x2="251.46" y2="656.41" stroke="#555" stroke-width="1"/>
<line x1="249.46" y1="648.21" x2="253.46" y2="648.21" stroke="#555" stroke-width="1"/>
<line x1="249.46" y1="656.41" x2="253.46" y2="656.41" stroke="#555" stroke-width="1"/>
<path d="M69.3 755.4 L114.84 721.21 L160.38 710.79 L251.46 714.61" fill="none" stroke="#2a2a2a" stroke-width="1.0"/>
<path d="M69.3 755.4 L114.84 719.2 L160.38 702.69 L251.46 702.69" fill="none" stroke="#2a2a2a" stroke-width="1.0"/>
<path d="M69.3 755.4 L114.84 639.14 L160.38 613.11 L251.46 626.5" fill="none" stroke="#2a2a2a" stroke-width="1.0"/>
<path d="M69.3 755.4 L114.84 656.16 L160.38 643.1 L251.46 634.59" fill="none" stroke="#2a2a2a" stroke-width="1.0"/>
<path d="M69.3 755.4 L114.84 689.6 L160.38 675.59 L251.46 660.89" fill="none" stroke="#2a2a2a" stroke-width="1.0"/>
<path d="M69.3 755.4 L114.84 657.9 L160.38 653.51 L251.46 652.31" fill="none" stroke="#2a2a2a" stroke-width="1.0"/>
<circle cx="69.3" cy="755.4" r="2.95" fill="#fff" stroke="#222" stroke-width="1"/>
<circle cx="114.84" cy="721.21" r="2.95" fill="#fff" stroke="#222" stroke-width="1"/>
<circle cx="160.38" cy="710.79" r="2.95" fill="#fff" stroke="#222" stroke-width="1"/>
<circle cx="251.46" cy="714.61" r="2.95" fill="#fff" stroke="#222" stroke-width="1"/>
<path d="M69.3 752.1 L72.75 758.1 L65.85 758.1Z" fill="#fff" stroke="#222" stroke-width="1"/>
<path d="M114.84 715.9 L118.29 721.9 L111.39 721.9Z" fill="#fff" stroke="#222" stroke-width="1"/>
<path d="M160.38 699.39 L163.83 705.39 L156.93 705.39Z" fill="#fff" stroke="#222" stroke-width="1"/>
<path d="M251.46 699.39 L254.91 705.39 L248.01 705.39Z" fill="#fff" stroke="#222" stroke-width="1"/>
<path d="M69.3 758.7 L72.75 752.7 L65.85 752.7Z" fill="#fff" stroke="#222" stroke-width="1"/>
<path d="M114.84 642.44 L118.29 636.44 L111.39 636.44Z" fill="#fff" stroke="#222" stroke-width="1"/>
<path d="M160.38 616.41 L163.83 610.41 L156.93 610.41Z" fill="#fff" stroke="#222" stroke-width="1"/>
<path d="M251.46 629.8 L254.91 623.8 L248.01 623.8Z" fill="#fff" stroke="#222" stroke-width="1"/>
<rect x="66.45" y="752.55" width="5.7" height="5.7" fill="#fff" stroke="#222" stroke-width="1"/>
<rect x="111.99" y="653.31" width="5.7" height="5.7" fill="#fff" stroke="#222" stroke-width="1"/>
<rect x="157.53" y="640.25" width="5.7" height="5.7" fill="#fff" stroke="#222" stroke-width="1"/>
<rect x="248.61" y="631.74" width="5.7" height="5.7" fill="#fff" stroke="#222" stroke-width="1"/>
<circle cx="69.3" cy="755.4" r="3.2" fill="#000"/>
<circle cx="114.84" cy="689.6" r="3.2" fill="#000"/>
<circle cx="160.38" cy="675.59" r="3.2" fill="#000"/>
<circle cx="251.46" cy="660.89" r="3.2" fill="#000"/>
<path d="M69.3 751.55 L73.3 758.55 L65.3 758.55Z" fill="#000"/>
<path d="M114.84 654.05 L118.84 661.05 L110.84 661.05Z" fill="#000"/>
<path d="M160.38 649.66 L164.38 656.66 L156.38 656.66Z" fill="#000"/>
<path d="M251.46 648.46 L255.46 655.46 L247.46 655.46Z" fill="#000"/>
<rect x="66" y="752.4" width="6.6" height="6.2" fill="#000"/>
<line x1="326.9" y1="602.49" x2="326.9" y2="756.05" stroke="#111" stroke-width="1.5"/>
<line x1="326.15" y1="755.3" x2="510.14" y2="755.3" stroke="#111" stroke-width="1.5"/>
<line x1="323.7" y1="755.3" x2="329.5" y2="755.3" stroke="#111" stroke-width="1.2"/>
<text x="319.85" y="757.9" text-anchor="end" font-size="10.8">0</text>
<line x1="326.9" y1="747.15" x2="329.1" y2="747.15" stroke="#111" stroke-width="1.1"/>
<line x1="326.9" y1="739" x2="329.1" y2="739" stroke="#111" stroke-width="1.1"/>
<line x1="326.9" y1="730.85" x2="329.1" y2="730.85" stroke="#111" stroke-width="1.1"/>
<line x1="326.9" y1="722.7" x2="329.1" y2="722.7" stroke="#111" stroke-width="1.1"/>
<line x1="323.7" y1="714.55" x2="329.5" y2="714.55" stroke="#111" stroke-width="1.2"/>
<text x="319.85" y="717.15" text-anchor="end" font-size="10.8">2000</text>
<line x1="326.9" y1="706.4" x2="329.1" y2="706.4" stroke="#111" stroke-width="1.1"/>
<line x1="326.9" y1="698.25" x2="329.1" y2="698.25" stroke="#111" stroke-width="1.1"/>
<line x1="326.9" y1="690.1" x2="329.1" y2="690.1" stroke="#111" stroke-width="1.1"/>
<line x1="326.9" y1="681.95" x2="329.1" y2="681.95" stroke="#111" stroke-width="1.1"/>
<line x1="323.7" y1="673.8" x2="329.5" y2="673.8" stroke="#111" stroke-width="1.2"/>
<text x="319.85" y="676.4" text-anchor="end" font-size="10.8">4000</text>
<line x1="326.9" y1="665.65" x2="329.1" y2="665.65" stroke="#111" stroke-width="1.1"/>
<line x1="326.9" y1="657.5" x2="329.1" y2="657.5" stroke="#111" stroke-width="1.1"/>
<line x1="326.9" y1="649.35" x2="329.1" y2="649.35" stroke="#111" stroke-width="1.1"/>
<line x1="326.9" y1="641.2" x2="329.1" y2="641.2" stroke="#111" stroke-width="1.1"/>
<line x1="323.7" y1="633.05" x2="329.5" y2="633.05" stroke="#111" stroke-width="1.2"/>
<text x="319.85" y="635.65" text-anchor="end" font-size="10.8">6000</text>
<line x1="326.9" y1="624.9" x2="329.1" y2="624.9" stroke="#111" stroke-width="1.1"/>
<line x1="326.9" y1="616.75" x2="329.1" y2="616.75" stroke="#111" stroke-width="1.1"/>
<line x1="326.9" y1="608.6" x2="329.1" y2="608.6" stroke="#111" stroke-width="1.1"/>
<text x="325.5" y="768.8" text-anchor="middle" font-size="10">0</text>
<line x1="372.56" y1="755.3" x2="372.56" y2="752.3" stroke="#111" stroke-width="1.2"/>
<text x="370.5" y="768.8" text-anchor="middle" font-size="10">6</text>
<line x1="418.22" y1="755.3" x2="418.22" y2="752.3" stroke="#111" stroke-width="1.2"/>
<text x="415.5" y="768.8" text-anchor="middle" font-size="10">12</text>
<line x1="463.88" y1="755.3" x2="463.88" y2="752.3" stroke="#111" stroke-width="1.2"/>
<text x="460.5" y="768.8" text-anchor="middle" font-size="10">18</text>
<line x1="509.54" y1="755.3" x2="509.54" y2="752.3" stroke="#111" stroke-width="1.2"/>
<text x="505.5" y="768.8" text-anchor="middle" font-size="10">24</text>
<text x="336.4" y="785.3" font-size="11">Time after LPS treatment (hours)</text>
<text x="259.25" y="612.6" font-size="17" font-weight="bold" style="stroke-width:0.7px">H</text>
<text transform="translate(290,679) rotate(-90)" text-anchor="middle" font-size="12">TNF-α protein (pg/mL medium)</text>
<line x1="372.56" y1="649.7" x2="372.56" y2="660.7" stroke="#555" stroke-width="1"/>
<line x1="370.56" y1="649.7" x2="374.56" y2="649.7" stroke="#555" stroke-width="1"/>
<line x1="370.56" y1="660.7" x2="374.56" y2="660.7" stroke="#555" stroke-width="1"/>
<line x1="372.56" y1="602.69" x2="372.56" y2="612.88" stroke="#555" stroke-width="1"/>
<line x1="370.56" y1="602.69" x2="374.56" y2="602.69" stroke="#555" stroke-width="1"/>
<line x1="370.56" y1="612.88" x2="374.56" y2="612.88" stroke="#555" stroke-width="1"/>
<line x1="418.22" y1="656.07" x2="418.22" y2="665.04" stroke="#555" stroke-width="1"/>
<line x1="416.22" y1="656.07" x2="420.22" y2="656.07" stroke="#555" stroke-width="1"/>
<line x1="416.22" y1="665.04" x2="420.22" y2="665.04" stroke="#555" stroke-width="1"/>
<line x1="418.22" y1="678.98" x2="418.22" y2="687.13" stroke="#555" stroke-width="1"/>
<line x1="416.22" y1="678.98" x2="420.22" y2="678.98" stroke="#555" stroke-width="1"/>
<line x1="416.22" y1="687.13" x2="420.22" y2="687.13" stroke="#555" stroke-width="1"/>
<path d="M326.9 755.3 L372.56 679.2 L418.22 703.06 L509.54 721.84" fill="none" stroke="#2a2a2a" stroke-width="1.0"/>
<path d="M326.9 755.3 L372.56 655.2 L418.22 686.02 L509.54 711.35" fill="none" stroke="#2a2a2a" stroke-width="1.0"/>
<path d="M326.9 755.3 L372.56 607.78 L418.22 660.56 L509.54 705.06" fill="none" stroke="#2a2a2a" stroke-width="1.0"/>
<path d="M326.9 755.3 L372.56 625.31 L418.22 689.75 L509.54 696.42" fill="none" stroke="#2a2a2a" stroke-width="1.0"/>
<path d="M326.9 755.3 L372.56 671.91 L418.22 696.86 L509.54 716.34" fill="none" stroke="#2a2a2a" stroke-width="1.0"/>
<path d="M326.9 755.3 L372.56 619.56 L418.22 683.05 L509.54 700.76" fill="none" stroke="#2a2a2a" stroke-width="1.0"/>
<circle cx="326.9" cy="755.3" r="2.95" fill="#fff" stroke="#222" stroke-width="1"/>
<circle cx="372.56" cy="679.2" r="2.95" fill="#fff" stroke="#222" stroke-width="1"/>
<circle cx="418.22" cy="703.06" r="2.95" fill="#fff" stroke="#222" stroke-width="1"/>
<circle cx="509.54" cy="721.84" r="2.95" fill="#fff" stroke="#222" stroke-width="1"/>
<path d="M326.9 752 L330.35 758 L323.45 758Z" fill="#fff" stroke="#222" stroke-width="1"/>
<path d="M372.56 651.9 L376.01 657.9 L369.11 657.9Z" fill="#fff" stroke="#222" stroke-width="1"/>
<path d="M418.22 682.73 L421.67 688.73 L414.77 688.73Z" fill="#fff" stroke="#222" stroke-width="1"/>
<path d="M509.54 708.05 L512.99 714.05 L506.09 714.05Z" fill="#fff" stroke="#222" stroke-width="1"/>
<path d="M326.9 758.6 L330.35 752.6 L323.45 752.6Z" fill="#fff" stroke="#222" stroke-width="1"/>
<path d="M372.56 611.08 L376.01 605.08 L369.11 605.08Z" fill="#fff" stroke="#222" stroke-width="1"/>
<path d="M418.22 663.86 L421.67 657.86 L414.77 657.86Z" fill="#fff" stroke="#222" stroke-width="1"/>
<path d="M509.54 708.36 L512.99 702.36 L506.09 702.36Z" fill="#fff" stroke="#222" stroke-width="1"/>
<rect x="324.05" y="752.45" width="5.7" height="5.7" fill="#fff" stroke="#222" stroke-width="1"/>
<rect x="369.71" y="622.46" width="5.7" height="5.7" fill="#fff" stroke="#222" stroke-width="1"/>
<rect x="415.37" y="686.9" width="5.7" height="5.7" fill="#fff" stroke="#222" stroke-width="1"/>
<rect x="506.69" y="693.57" width="5.7" height="5.7" fill="#fff" stroke="#222" stroke-width="1"/>
<circle cx="326.9" cy="755.3" r="3.2" fill="#000"/>
<circle cx="372.56" cy="671.91" r="3.2" fill="#000"/>
<circle cx="418.22" cy="696.86" r="3.2" fill="#000"/>
<circle cx="509.54" cy="716.34" r="3.2" fill="#000"/>
<path d="M326.9 751.45 L330.9 758.45 L322.9 758.45Z" fill="#000"/>
<path d="M372.56 615.71 L376.56 622.71 L368.56 622.71Z" fill="#000"/>
<path d="M418.22 679.2 L422.22 686.2 L414.22 686.2Z" fill="#000"/>
<path d="M509.54 696.91 L513.54 703.91 L505.54 703.91Z" fill="#000"/>
<rect x="323.6" y="752.3" width="6.6" height="6.2" fill="#000"/>
<rect x="113.75" y="794.25" width="348" height="30" fill="none" stroke="#333" stroke-width="1.2"/>
<line x1="123.75" y1="801.75" x2="143.75" y2="801.75" stroke="#2a2a2a" stroke-width="1"/>
<circle cx="133.75" cy="801.75" r="2.8" fill="#000"/>
<text x="147.5" y="804.05" font-size="8"><tspan font-style="italic">Fpn1</tspan><tspan font-style="italic" font-size="6.2" dy="-2.7">flox/flox</tspan><tspan dy="2.7" font-size="9.3"></tspan></text>
<line x1="227.5" y1="801.75" x2="245" y2="801.75" stroke="#2a2a2a" stroke-width="1"/>
<circle cx="236.25" cy="801.75" r="3.0" fill="#fff" stroke="#222" stroke-width="1"/>
<text x="251.25" y="804.05" font-size="8"><tspan font-style="italic">Fpn1</tspan><tspan font-style="italic" font-size="6.2" dy="-2.7">flox/flox</tspan><tspan dy="2.7" font-size="9.3"> + DFO</tspan></text>
<line x1="356.25" y1="801.75" x2="376.25" y2="801.75" stroke="#2a2a2a" stroke-width="1"/>
<rect x="363.25" y="798.75" width="6" height="6" fill="#fff" stroke="#222" stroke-width="1"/>
<text x="381.25" y="804.05" font-size="8"><tspan font-style="italic">Fpn1</tspan><tspan font-style="italic" font-size="6.2" dy="-2.7">flox/flox</tspan><tspan dy="2.7" font-size="9.3"> + FAC</tspan></text>
<line x1="123.75" y1="819.5" x2="143.75" y2="819.5" stroke="#2a2a2a" stroke-width="1"/>
<path d="M133.75 815.92 L137.5 822.42 L130 822.42Z" fill="#000"/>
<text x="147.5" y="821.8" font-size="8"><tspan font-style="italic">Fpn1</tspan><tspan font-style="italic" font-size="6.2" dy="-2.7">LysM/LysM</tspan><tspan dy="2.7" font-size="9.3"></tspan></text>
<line x1="227.5" y1="819.5" x2="245" y2="819.5" stroke="#2a2a2a" stroke-width="1"/>
<path d="M236.25 816.2 L239.75 822.2 L232.75 822.2Z" fill="#fff" stroke="#222" stroke-width="1"/>
<text x="251.25" y="821.8" font-size="8"><tspan font-style="italic">Fpn1</tspan><tspan font-style="italic" font-size="6.2" dy="-2.7">LysM/LysM</tspan><tspan dy="2.7" font-size="9.3"> + DFO</tspan></text>
<line x1="356.25" y1="819.5" x2="376.25" y2="819.5" stroke="#2a2a2a" stroke-width="1"/>
<path d="M366.25 822.8 L369.75 816.8 L362.75 816.8Z" fill="#fff" stroke="#222" stroke-width="1"/>
<text x="381.25" y="821.8" font-size="8"><tspan font-style="italic">Fpn1</tspan><tspan font-style="italic" font-size="6.2" dy="-2.7">LysM/LysM</tspan><tspan dy="2.7" font-size="9.3"> + FAC</tspan></text>
</svg>
</body></html>
